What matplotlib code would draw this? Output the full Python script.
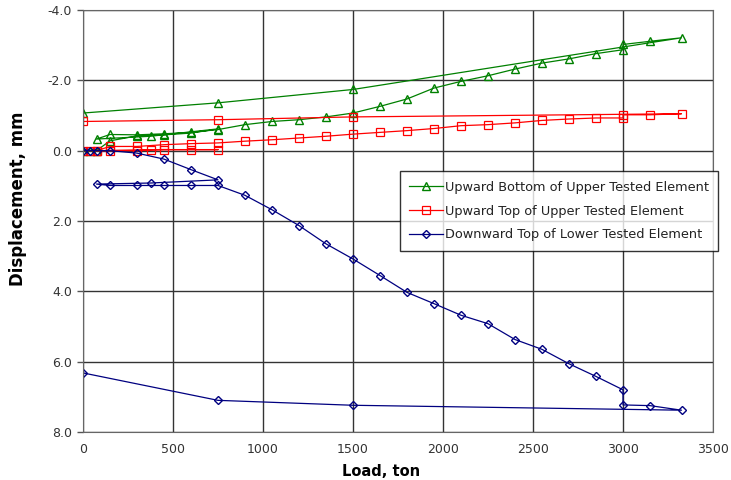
import matplotlib
matplotlib.use("Agg")
from matplotlib import pyplot as plt

# load steps (ton): first cycle, unload, reload to max, hold, unload
load = [0, 37.5, 75, 150, 300, 450, 600, 750,
        375, 75,
        150, 300, 450, 600, 750, 900, 1050, 1200, 1350, 1500, 1650, 1800,
        1950, 2100, 2250, 2400, 2550, 2700, 2850, 3000, 3000, 3150, 3325,
        1500, 750, 0]

# displacements in mm (negative = upward)
bottom_upper = [0, 0, 0, -0.28, -0.42, -0.45, -0.50, -0.62,
                -0.41, -0.33,
                -0.46, -0.45, -0.48, -0.52, -0.60, -0.74, -0.83, -0.88, -0.96, -1.07, -1.26, -1.47,
                -1.78, -1.97, -2.13, -2.32, -2.49, -2.61, -2.76, -2.87, -3.02, -3.11, -3.21,
                -1.74, -1.36, -1.07]

top_upper = [0, 0, 0, 0, 0, -0.03, -0.03, -0.03,
             -0.03, 0,
             -0.12, -0.12, -0.17, -0.20, -0.22, -0.27, -0.31, -0.36, -0.41, -0.47, -0.52, -0.57,
             -0.63, -0.71, -0.74, -0.79, -0.86, -0.90, -0.93, -0.93, -1.02, -1.02, -1.05,
             -0.96, -0.88, -0.83]

top_lower = [0, 0, 0, 0, 0.07, 0.24, 0.54, 0.83,
             0.92, 0.95,
             0.99, 0.99, 0.99, 0.99, 0.99, 1.27, 1.68, 2.13, 2.65, 3.08, 3.55, 4.03,
             4.35, 4.68, 4.92, 5.37, 5.65, 6.06, 6.42, 6.80, 7.23, 7.25, 7.38,
             7.24, 7.10, 6.32]

fig = plt.figure(figsize=(7.31, 4.8), dpi=100)
ax = fig.add_axes([83/731, 1 - 432/480, 630/731, 422/480])

ax.plot(load, bottom_upper, '-', color='#008000', lw=0.9, marker='^', ms=5.5,
        mfc='none', mec='#008000', mew=1.0, label='Upward Bottom of Upper Tested Element')
ax.plot(load, top_upper, '-', color='#ff0000', lw=0.9, marker='s', ms=5.5,
        mfc='none', mec='#ff0000', mew=0.9, label='Upward Top of Upper Tested Element')
ax.plot(load, top_lower, '-', color='#000080', lw=0.9, marker='D', ms=4,
        mfc='none', mec='#000080', mew=1.0, label='Downward Top of Lower Tested Element')

ax.set_xlim(0, 3500)
ax.set_ylim(8, -4)
ax.set_xticks(range(0, 3501, 500))
ax.set_yticks([-4, -2, 0, 2, 4, 6, 8])
ax.set_yticklabels(['%.1f' % v for v in [-4, -2, 0, 2, 4, 6, 8]])
ax.grid(True, color='#333333', lw=1.0)
ax.set_axisbelow(True)
for s in ax.spines.values():
    s.set_color('#666666')
ax.tick_params(colors='#333333', labelsize=9, length=4, width=1, color='#555555', pad=4)
ax.tick_params(axis='x', length=0, pad=8)

ax.set_xlabel('Load, ton', fontsize=10.5, fontweight='bold')
ax.set_ylabel('Displacement, mm', fontsize=12, fontweight='bold')
ax.xaxis.set_label_coords(0.473, -0.075)
ax.yaxis.set_label_coords(-0.089, 0.553)

leg = fig.legend(loc='upper left', bbox_to_anchor=(400/731, 1 - 171.5/480),
                 fontsize=9.3, frameon=True, fancybox=False, handlelength=2.6,
                 borderpad=0.7, labelspacing=0.85, handletextpad=0.2,
                 borderaxespad=0)
leg.get_frame().set_edgecolor('#000000')
leg.get_frame().set_linewidth(1.0)
for t in leg.get_texts():
    t.set_color('#222222')

fig.savefig('out.png', dpi=100)
